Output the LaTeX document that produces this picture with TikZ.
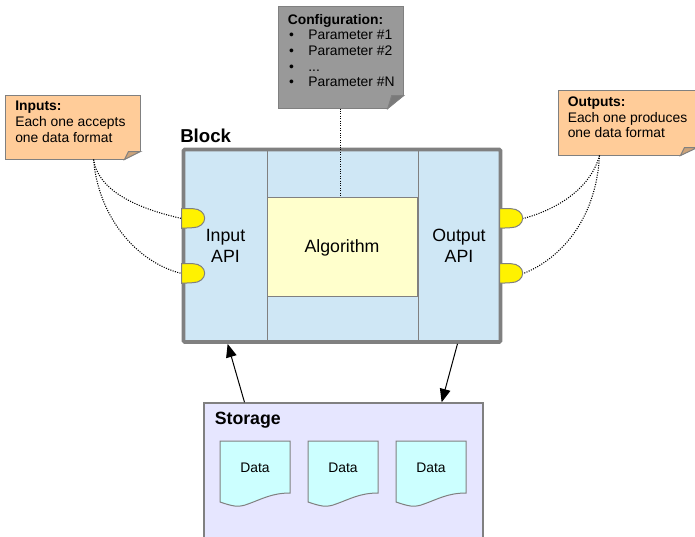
\documentclass[tikz,border=0pt]{standalone}
\usepackage{fontspec}
\setmainfont{Liberation Sans}
\usepackage{xcolor}
\usetikzlibrary{calc, arrows.meta}

\definecolor{panelblue}{HTML}{CFE7F5}
\definecolor{algoyellow}{HTML}{FFFFCC}
\definecolor{noteorange}{HTML}{FFCC99}
\definecolor{foldorange}{HTML}{CCA37A}
\definecolor{confgray}{HTML}{999999}
\definecolor{foldgray}{HTML}{7A7A7A}
\definecolor{storelilac}{HTML}{E6E6FF}
\definecolor{datacyan}{HTML}{CCFFFF}
\definecolor{edgegray}{HTML}{808080}

\tikzset{
	box/.style 2 args = {rectangle, inner sep = 0pt, minimum width = #1*0.75pt, minimum height = #2*0.75pt},
	panel/.style = {draw = edgegray, line width = 0.75pt, fill = panelblue, align = center, font = \fontsize{13.3}{15}\selectfont},
	notebox/.style = {draw = edgegray, line width = 0.75pt},
	notetext/.style = {anchor = north west, inner sep = 0pt, align = left, font = \fontsize{10.4}{11.7}\selectfont},
	title/.style = {anchor = west, inner sep = 0pt, font = \fontsize{13.6}{15}\selectfont\bfseries},
	portshape/.style = {draw = edgegray, fill = yellow, line width = 0.75pt},
	linkline/.style = {dash pattern = on 0.8pt off 1pt, line width = 0.8pt},
	flow/.style = {line width = 0.75pt, -{Stealth[length = 10pt, width = 8pt, inset = 0pt]}},
	doc/.style = {draw = edgegray, line width = 0.75pt, fill = datacyan}
}

\newcommand{\notefold}[4]{
	\fill [white] ($ (#1.south east) + (-#2,0.5) $) -- ($ (#1.south east) + (0.5,-#3) $) -- ($ (#1.south east) + (0.5,0.5) $) -- cycle;
	\filldraw [draw = edgegray, fill = #4, line width = 0.75pt] ($ (#1.south east) + (-#2,0) $) -- ($ (#1.south east) + (-#2+4,-#3) $) -- ($ (#1.south east) + (0,-#3) $) -- cycle;
}
\newcommand{\portface}[1]{
	\filldraw [portshape] (#1.north west) -- ++(11.5,0) arc [start angle = 90, end angle = -90, x radius = 8.6pt, y radius = 7.1pt] -- (#1.south west) -- cycle;
}
\newcommand{\itemline}[1]{\makebox[15.4pt][l]{\hspace{1pt}•}#1}

\begin{document}
\begin{tikzpicture}[x = 0.75pt, y = -0.75pt]
	\clip (0,0) rectangle (695,536);

	\node [panel, box = {83}{192}] (inputapi) at (225.5,246) {Input\\[1pt]API};
	\node [panel, box = {151}{192}] (middle) at (342.5,246) {};
	\node [panel, box = {82}{192}] (outputapi) at (459,246) {Output\\[1pt]API};
	\node [panel, box = {150}{99}, fill = algoyellow, text depth = 0pt] (algo) at (342,246.5) {Algorithm};
	\node [box = {317}{192.5}, draw = edgegray, line width = 2.8pt, rounded corners = 1pt] (block) at (342,245.75) {};
	\node [title, font = \fontsize{14}{15}\selectfont\bfseries] (blocktitle) at (180,135.5) {Block};

	\node [box = {135}{64}, notebox, fill = noteorange] (innote) at (72.5,127) {};
	\node [notetext] (intext) at (15,101) {\textbf{Inputs:}\\Each one accepts\\one data format};
	\notefold{innote}{16}{8}{foldorange}

	\node [box = {139}{65}, notebox, fill = noteorange] (outnote) at (627.5,122.5) {};
	\node [notetext] (outtext) at (567.5,96.5) {\textbf{Outputs:}\\Each one produces\\one data format};
	\notefold{outnote}{17}{8}{foldorange}

	\node [box = {125}{102}, notebox, fill = confgray] (confnote) at (340.75,57) {};
	\node [notetext] (conftext) at (287.5,14) {\textbf{Configuration:}\\\itemline{Parameter \#1}\\\itemline{Parameter \#2}\\\itemline{...}\\\itemline{Parameter \#N}};
	\notefold{confnote}{16}{13}{foldgray}

	\draw [linkline] (confnote.south) -- (confnote.south |- algo.north);

	\foreach \n/\y in {1/218.5, 2/273.5} {
		\node [box = {23}{19}] (inport\n) at (193.5,\y) {};
		\node [box = {23}{19}] (outport\n) at (511.5,\y) {};
		\portface{inport\n}
		\portface{outport\n}
	}
	\draw [linkline] ($ (innote.south west) ! 0.655 ! (innote.south east) $) .. controls (98,190) and (135,208) .. (inport1.west);
	\draw [linkline] ($ (innote.south west) ! 0.655 ! (innote.south east) $) .. controls (98,215) and (135,262) .. (inport2.west);
	\draw [linkline] ($ (outnote.south west) ! 0.3 ! (outnote.south east) $) .. controls (590,190) and (555,210) .. (outport1.east);
	\draw [linkline] ($ (outnote.south west) ! 0.3 ! (outnote.south east) $) .. controls (596,222) and (558,260) .. (outport2.east);

	\node [box = {279}{160}, draw = edgegray, line width = 1.1pt, fill = storelilac] (storage) at (343.5,483) {};
	\node [title, font = \fontsize{13.3}{15}\selectfont\bfseries] (storagetitle) at (214.5,420) {Storage};

	\foreach \n/\x in {1/220, 2/308, 3/396} {
		\begin{scope}[shift = {(\x,441)}]
			\draw [doc] (0,0) -- (70,0) -- (70,52) .. controls (52,52) and (42,58) .. (28,63) .. controls (18,67) and (12,65) .. (0,61) -- cycle;
			\node [inner sep = 0pt, font = \fontsize{10.4}{12}\selectfont] (data\n) at (35,27) {Data};
		\end{scope}
	}

	\draw [flow] ($ (storage.north west) ! 0.147 ! (storage.north east) $) -- ($ (block.south west) ! 0.1435 ! (block.south east) $);
	\draw [flow] ($ (block.south west) ! 0.86 ! (block.south east) $) -- ($ (storage.north west) ! 0.85 ! (storage.north east) $);
\end{tikzpicture}
\end{document}
